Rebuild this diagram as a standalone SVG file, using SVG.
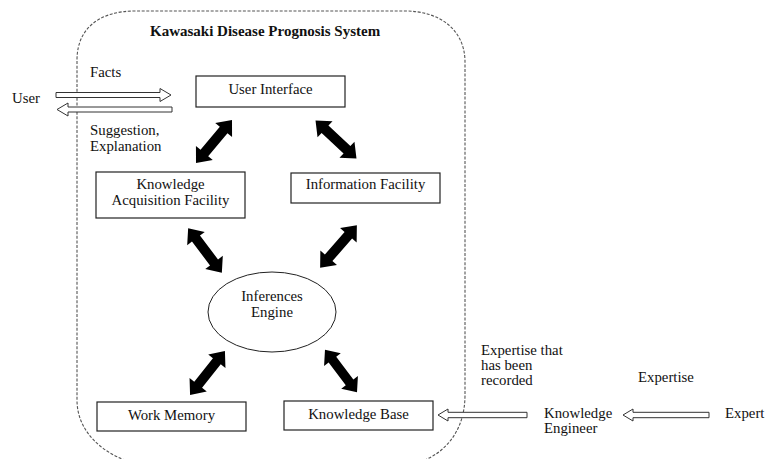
<svg xmlns="http://www.w3.org/2000/svg" xmlns:xlink="http://www.w3.org/1999/xlink" width="766" height="459" viewBox="0 0 766 459">
<style>
text{font-family:"Liberation Serif","Times New Roman",serif;font-size:14.8px;fill:#111}
.c{text-anchor:middle}
.title{font-weight:bold;font-size:15px}
.box{fill:#fff;stroke:#222;stroke-width:1.2}
.hollow{fill:#fff;stroke:#333;stroke-width:1}
.bound{fill:none;stroke:#555;stroke-width:1.1;stroke-dasharray:3 1.6}
</style>
<defs>
<path id="dbl" d="M -28 0 L -15 -11 L -15 -5 L 15 -5 L 15 -11 L 28 0 L 15 11 L 15 5 L -15 5 L -15 11 Z" fill="#000"/>
</defs>
<rect width="766" height="459" fill="#fff"/>
<g id="boundary">
<path class="bound" d="M 130 462 C 100 452, 77 430, 77 400 L 77 60 C 77 28, 100 11, 135 11 L 405 11 C 440 11, 465 30, 465 62 L 465 395 C 465 428, 448 452, 420 462"/>
<text class="title" x="150" y="36">Kawasaki Disease Prognosis System</text>
</g>
<g id="user">
<text x="12" y="103">User</text>
</g>
<g id="user-interface">
<rect class="box" x="196" y="76" width="149" height="31"/>
<text class="c" x="270.5" y="94">User Interface</text>
</g>
<g id="knowledge-acquisition">
<rect class="box" x="96" y="172" width="149" height="46"/>
<text class="c" x="170.5" y="189">Knowledge</text>
<text class="c" x="170.5" y="205">Acquisition Facility</text>
</g>
<g id="information-facility">
<rect class="box" x="291" y="173" width="149" height="30"/>
<text class="c" x="365.5" y="189">Information Facility</text>
</g>
<g id="inference-engine">
<ellipse cx="272" cy="312" rx="64" ry="40" fill="#fff" stroke="#222" stroke-width="1"/>
<text class="c" x="272" y="301">Inferences</text>
<text class="c" x="272" y="317">Engine</text>
</g>
<g id="work-memory">
<rect class="box" x="97" y="402" width="149" height="29"/>
<text class="c" x="171.5" y="420">Work Memory</text>
</g>
<g id="knowledge-base">
<rect class="box" x="284" y="401" width="149" height="29"/>
<text class="c" x="358.5" y="419">Knowledge Base</text>
</g>
<g id="knowledge-engineer">
<text x="544" y="418">Knowledge</text>
<text x="544" y="433">Engineer</text>
</g>
<g id="expert">
<text x="725" y="418">Expert</text>
</g>
<g id="connectors">
<polygon class="hollow" points="56,92.5 160,92.5 160,88.5 171,95 160,101.5 160,97.5 56,97.5"/>
<polygon class="hollow" points="172,107 68,107 68,103 57,109.5 68,116 68,112 172,112"/>
<text x="90" y="77">Facts</text>
<text x="90" y="135">Suggestion,</text>
<text x="90" y="151">Explanation</text>
<use xlink:href="#dbl" transform="translate(214 141.5) rotate(-50)"/>
<use xlink:href="#dbl" transform="translate(336 139.5) rotate(43)"/>
<use xlink:href="#dbl" transform="translate(205 250.5) rotate(53)"/>
<use xlink:href="#dbl" transform="translate(338.5 246.5) rotate(-49)"/>
<use xlink:href="#dbl" transform="translate(207.5 373) rotate(-51.5)"/>
<use xlink:href="#dbl" transform="translate(341 371) rotate(53) scale(0.95)"/>
<polygon class="hollow" points="527,412.3 448,412.3 448,409 438,415 448,421 448,417.7 527,417.7"/>
<polygon class="hollow" points="709,412.3 633,412.3 633,409 623,415 633,421 633,417.7 709,417.7"/>
<text x="481" y="355">Expertise that</text>
<text x="481" y="370">has been</text>
<text x="481" y="385">recorded</text>
<text x="638" y="382">Expertise</text>
</g>
</svg>
